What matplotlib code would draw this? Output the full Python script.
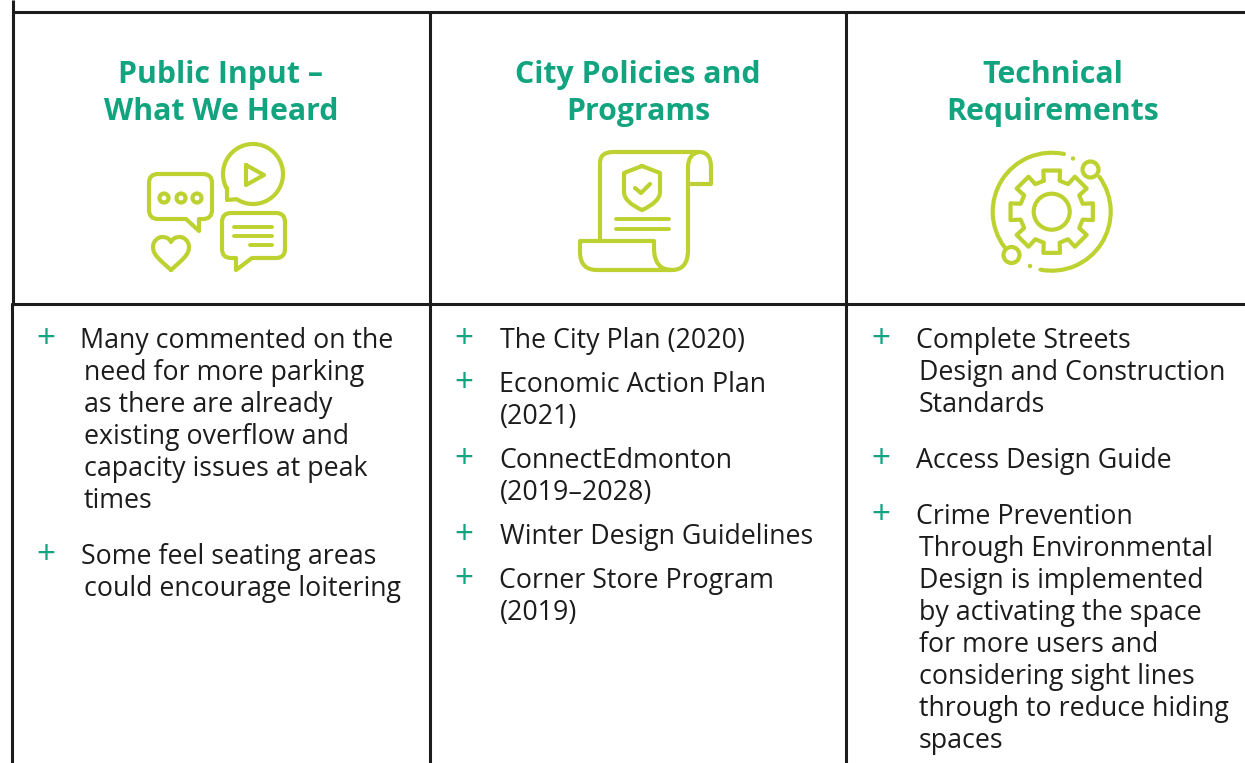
import numpy as np
import matplotlib
matplotlib.use("Agg")
import matplotlib.pyplot as plt
from matplotlib.patches import PathPatch, Circle, Arc
from matplotlib.path import Path

# colours
green = "#12A37F"
lime = "#BDD231"
ink = "#1c1c1c"

# column headings
titles = [["Public Input –", "What We Heard"],
          ["City Policies and", "Programs"],
          ["Technical", "Requirements"]]
title_x = [221, 638, 1053]
title_base = [83, 120]

# bullet text, one list per column: (plus y, [(line, x, baseline y), ...])
col1 = [(337, [("Many commented on the", 80, 348), ("need for more parking", 84, 380),
               ("as there are already", 84, 412), ("existing overflow and", 84, 444),
               ("capacity issues at peak", 84, 476), ("times", 84, 508)]),
        (553, [("Some feel seating areas", 81, 564), ("could encourage loitering", 84, 596)])]
col2 = [(336, [("The City Plan (2020)", 500, 348)]),
        (380, [("Economic Action Plan", 499, 392), ("(2021)", 500, 424)]),
        (456, [("ConnectEdmonton", 499, 468), ("(2019–2028)", 500, 500)]),
        (532, [("Winter Design Guidelines", 500, 544)]),
        (576, [("Corner Store Program", 499, 588), ("(2019)", 500, 620)])]
col3 = [(336, [("Complete Streets", 916, 348), ("Design and Construction", 919, 380),
               ("Standards", 919, 412)]),
        (456, [("Access Design Guide", 916, 468)]),
        (512, [("Crime Prevention", 916, 524), ("Through Environmental", 919, 556),
               ("Design is implemented", 919, 588), ("by activating the space", 919, 620),
               ("for more users and", 919, 652), ("considering sight lines", 919, 684),
               ("through to reduce hiding", 919, 716), ("spaces", 919, 748)])]
plus_x = [46, 464, 881]

fig = plt.figure(figsize=(12.45, 7.63), dpi=100)
ax = fig.add_axes([0, 0, 1, 1])
ax.set_xlim(0, 1245)
ax.set_ylim(763, 0)
ax.axis("off")

# table rules
ax.plot([12.6, 12.6], [0, 303], color=ink, lw=2.2, solid_capstyle="butt")
ax.plot([11.7, 11.7], [303, 763], color=ink, lw=2.2, solid_capstyle="butt")
for x in [429.5, 845.5]:
    ax.plot([x, x], [11, 763], color=ink, lw=2.2, solid_capstyle="butt")
ax.plot([12, 1245], [11.5, 11.5], color=ink, lw=2.2, solid_capstyle="butt")
ax.plot([11, 1245], [303.5, 303.5], color=ink, lw=2.2, solid_capstyle="butt")

for lines, x in zip(titles, title_x):
    for s, y in zip(lines, title_base):
        ax.text(x, y, s, ha="center", va="baseline", color=green, fontsize=21.8,
                fontweight="bold", family="Open Sans")

for col, px in zip([col1, col2, col3], plus_x):
    for plus_y, rows in col:
        ax.text(px, plus_y + 3, "+", ha="center", va="center", color=green, fontsize=24, family="Open Sans")
        for s, x, y in rows:
            ax.text(x, y, s, ha="left", va="baseline", color=ink, fontsize=19.3, family="Open Sans")


def stroke(verts, codes=None, lw=3.0):
    p = Path(verts, codes) if codes else Path(verts)
    ax.add_patch(PathPatch(p, fc="none", ec=lime, lw=lw, capstyle="round", joinstyle="round"))


def ring(cx, cy, r, lw=3.0):
    ax.add_patch(Circle((cx, cy), r, fc="none", ec=lime, lw=lw))


def seg(x0, x1, y):
    ax.plot([x0, x1], [y, y], color=lime, lw=2.8, solid_capstyle="round")


M, L, C3, C4 = Path.MOVETO, Path.LINETO, Path.CURVE3, Path.CURVE4

# icon 1: speech bubbles
stroke([(158, 174), (203, 174), (212, 174), (212, 183), (212, 210), (212, 219), (203, 219),
        (199, 219), (199, 231), (186, 219), (158, 219), (149, 219), (149, 210), (149, 183),
        (149, 174), (158, 174)],
       [M, L, C3, C3, L, C3, C3, L, L, L, L, C3, C3, L, C3, C3])
for x in [164, 181, 197]:
    ring(x, 198, 4.5)
a = np.radians(np.linspace(152, 483, 80))
bx = 253 + 30 * np.cos(a)
by = 174 + 30 * np.sin(a)
stroke(list(zip(bx, by)) + [(227, 200), (227, 188)])
stroke([(246, 165), (264, 175), (246, 185), (246, 165)])
stroke([(231, 213), (276, 213), (285, 213), (285, 222), (285, 249), (285, 258), (276, 258),
        (252, 258), (236, 270), (236, 258), (231, 258), (222, 258), (222, 249), (222, 222),
        (222, 213), (231, 213)],
       [M, L, C3, C3, L, C3, C3, L, L, L, L, C3, C3, L, C3, C3])
seg(234, 272, 227)
seg(234, 272, 236)
seg(250, 272, 245)
stroke([(171, 270), (160, 260), (153, 255), (153, 247), (153, 241), (158, 237), (162, 237),
        (166, 237), (169, 238), (171, 242), (173, 238), (176, 237), (180, 237),
        (184, 237), (189, 241), (189, 247), (189, 255), (182, 260), (171, 270)],
       [M] + [C4] * 18)

# icon 2: scroll
stroke([(600, 240), (600, 163), (600, 152), (613, 152), (699, 152), (711, 152), (711, 167),
        (711, 184), (688, 184)],
       [M, L, C3, C3, L, C3, C3, L, L])
stroke([(699, 152), (688, 154), (688, 167), (688, 250), (688, 270), (672, 270), (597, 270),
        (580, 270), (580, 252), (580, 241), (654, 241), (654, 248), (654, 270), (672, 270)],
       [M, C3, C3, L, C3, C3, L, C3, C3, L, L, L, C3, C3])
stroke([(642, 166), (660, 173), (660, 192), (660, 202), (642, 210), (624, 202), (624, 192),
        (624, 173), (642, 166)],
       [M, L, L, C3, C3, C3, C3, L, L])
stroke([(635, 188), (641, 193), (650, 184)])
seg(616, 669, 219)
seg(616, 669, 229)

# icon 3: gear and orbit
cx, cy = 1051.7, 211.7
ring(cx, cy, 18)
n = 8
gear = []
for i in range(n):
    t = -np.pi / 2 + i * 2 * np.pi / n
    w_out = 0.2
    w_in = 0.25
    gear += [(t - w_in, 32), (t - w_out, 42), (t + w_out, 42), (t + w_in, 32)]
gear.append(gear[0])
stroke([(cx + r * np.cos(t), cy + r * np.sin(t)) for t, r in gear])
ax.add_patch(Arc((cx, cy), 118, 118, theta1=143, theta2=282, ec=lime, lw=3.0, capstyle="round"))
ax.add_patch(Arc((cx, cy), 118, 118, theta1=-36, theta2=101, ec=lime, lw=3.0, capstyle="round"))
ring(1090.5, 169.5, 8)
ring(1011.5, 255, 8)
for x, y in [(1073, 158.5), (1030, 266)]:
    ax.add_patch(Circle((x, y), 2.2, fc=lime, ec="none"))

fig.savefig("out.png", dpi=100)
